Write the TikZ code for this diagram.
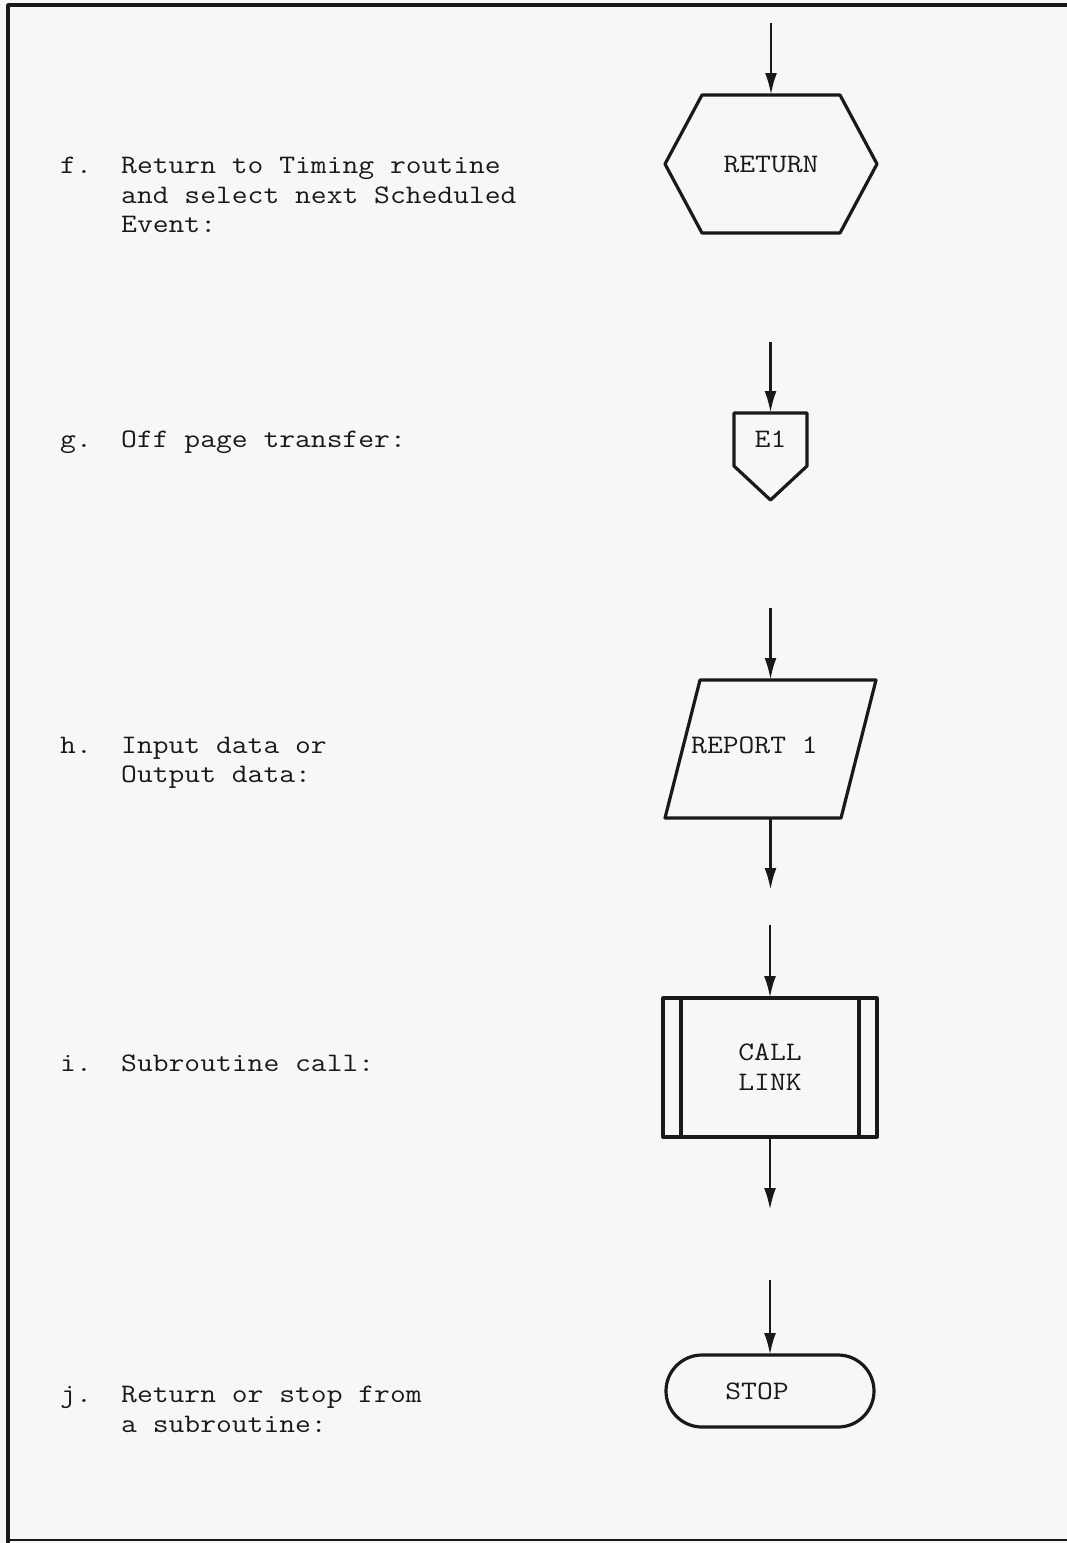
\documentclass[tikz,border=0pt]{standalone}
\usepackage{fontspec}
\setmonofont[FakeStretch=1.15]{Latin Modern Mono}
\usetikzlibrary{arrows.meta}
\definecolor{ink}{gray}{0.1}
\definecolor{paper}{gray}{0.97}
\begin{document}
\begin{tikzpicture}[x=1pt,y=-1pt,
  txt/.style={font=\ttfamily\fontsize{26.7}{30}\selectfont, text=ink, inner sep=0pt},
  shapeline/.style={draw=ink, line width=3.2pt, line join=round},
  flow/.style={draw=ink, line width=2.8pt, -{Latex[length=22pt,width=12pt]}},
  area/.style={inner sep=0pt, outer sep=0pt},
  item/.style={txt, anchor=base west}
]
% page and frame
\fill[paper] (0,0) rectangle (1067,1543);
\useasboundingbox (0,0) rectangle (1067,1543);
\draw[shapeline, line width=3.4pt] (8,1543) -- (8,5) -- (1067,5);
\draw[draw=ink, line width=2.4pt] (8,1540) -- (1067,1540);

% f. return
\node[item] (f-key) at (60,173) {f.};
\node[item] (f-l1) at (121,173) {Return to Timing routine};
\node[item] (f-l2) at (121,203) {and select next Scheduled};
\node[item] (f-l3) at (121,232) {Event:};
\node[area, txt, minimum width=212pt, minimum height=138pt] (ret) at (771,164) {RETURN};
\draw[shapeline] ([xshift=37pt]ret.north west) -- ([xshift=-37pt]ret.north east)
  -- (ret.east) -- ([xshift=-37pt]ret.south east) -- ([xshift=37pt]ret.south west)
  -- (ret.west) -- cycle;
\coordinate (ret-in) at (771,23);
\draw[flow] (ret-in) -- (ret.north);

% g. off page connector
\node[item] (g-key) at (60,447) {g.};
\node[item] (g-l1) at (121,447) {Off page transfer:};
\node[area, txt, minimum width=73pt, minimum height=53pt] (e1) at (770.5,439.5) {E1};
\draw[shapeline] (e1.north west) -- (e1.north east) -- (e1.south east)
  -- ([yshift=-34pt]e1.south) -- (e1.south west) -- cycle;
\coordinate (e1-in) at (770.5,342);
\draw[flow] (e1-in) -- (e1.north);

% h. input / output
\node[item] (h-key) at (60,753) {h.};
\node[item] (h-l1) at (121,753) {Input data or};
\node[item] (h-l2) at (121,782) {Output data:};
\node[area, minimum width=211pt, minimum height=138pt] (rep) at (770.5,749) {};
\draw[shapeline] ([xshift=35pt]rep.north west) -- (rep.north east)
  -- ([xshift=-35pt]rep.south east) -- (rep.south west) -- cycle;
\node[item] (rep-t) at (691,753) {REPORT 1};
\coordinate (rep-in) at (770.5,608);
\coordinate (rep-out) at (770.5,890);
\draw[flow] (rep-in) -- (rep.north);
\draw[flow] (rep.south) -- (rep-out);

% i. subroutine call
\node[item] (i-key) at (60,1071) {i.};
\node[item] (i-l1) at (121,1071) {Subroutine call:};
\node[area, txt, align=center, minimum width=214pt, minimum height=139pt] (call) at (770,1067.5) {CALL\\LINK};
\draw[shapeline] (call.north west) rectangle (call.south east);
\draw[shapeline] ([xshift=18pt]call.north west) -- ([xshift=18pt]call.south west);
\draw[shapeline] ([xshift=-18pt]call.north east) -- ([xshift=-18pt]call.south east);
\coordinate (call-in) at (770,925);
\coordinate (call-out) at (770,1210);
\draw[flow] (call-in) -- (call.north);
\draw[flow] (call.south) -- (call-out);

% j. terminal
\node[item] (j-key) at (60,1402) {j.};
\node[item] (j-l1) at (121,1402) {Return or stop from};
\node[item] (j-l2) at (121,1432) {a subroutine:};
\node[area, shapeline, rounded corners=36pt, minimum width=208pt, minimum height=72pt] (stop) at (770,1391) {};
\node[txt] (stop-t) at (757,1391) {STOP};
\coordinate (stop-in) at (770,1280);
\draw[flow] (stop-in) -- (stop.north);
\end{tikzpicture}
\end{document}
